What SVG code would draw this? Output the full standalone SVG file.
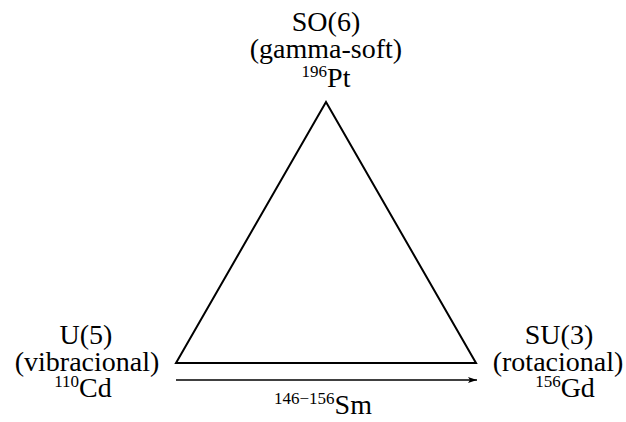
<svg xmlns="http://www.w3.org/2000/svg" width="626" height="422" viewBox="0 0 626 422">
<style>
text{fill:#000;text-anchor:middle;font-size:28px;font-family:'Liberation Serif',serif}
.sup{font-size:17px}
.ln{stroke:#000;stroke-width:2;fill:none}
</style>
<defs>
<marker id="ah" markerWidth="10" markerHeight="8" refX="9" refY="4" orient="auto" markerUnits="userSpaceOnUse">
<path d="M0,1 L9,4 L0,7 L2,4 Z" fill="#000"/>
</marker>
</defs>
<rect width="626" height="422" fill="#fff"/>
<g id="triangle">
<path class="ln" d="M326,102 L176,363 L476,363 Z"/>
</g>
<g id="connectors">
<line x1="176" y1="380" x2="477" y2="380" stroke="#000" stroke-width="1.4" marker-end="url(#ah)"/>
<text x="323" y="414"><tspan class="sup" dy="-10">146&#x2212;156</tspan><tspan dy="10">Sm</tspan></text>
</g>
<g id="so6">
<text x="326" y="31">SO(6)</text>
<text x="326" y="58">(gamma-soft)</text>
<text x="326" y="87"><tspan class="sup" dy="-10">196</tspan><tspan dy="10">Pt</tspan></text>
</g>
<g id="u5">
<text x="86" y="344">U(5)</text>
<text x="87" y="371">(vibracional)</text>
<text x="83" y="397"><tspan class="sup" dy="-10">110</tspan><tspan dy="10">Cd</tspan></text>
</g>
<g id="su3">
<text x="559" y="344">SU(3)</text>
<text x="558" y="371">(rotacional)</text>
<text x="565" y="397"><tspan class="sup" dy="-10">156</tspan><tspan dy="10">Gd</tspan></text>
</g>
</svg>
